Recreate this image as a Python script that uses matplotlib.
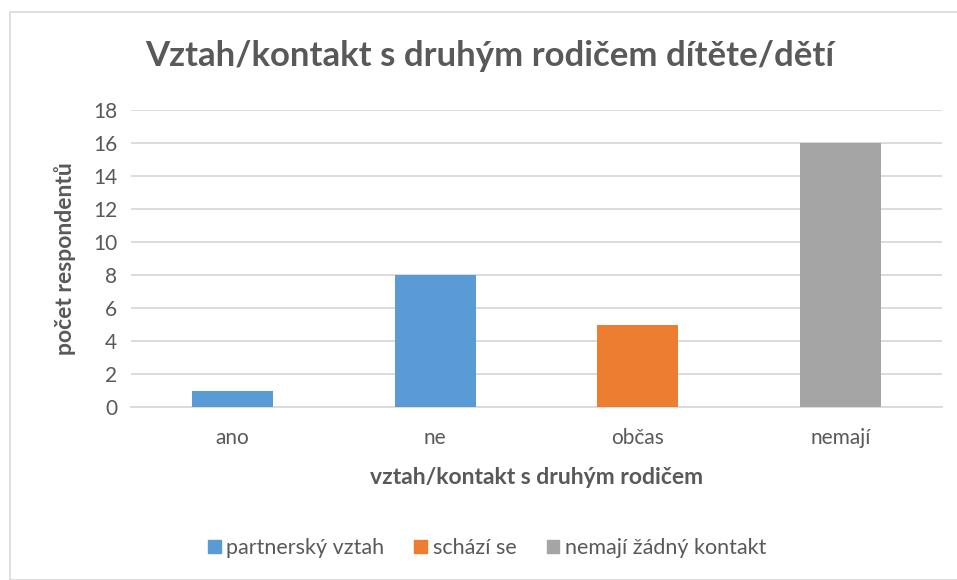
import matplotlib.pyplot as plt
from matplotlib.patches import Rectangle

# data
categories = ['ano', 'ne', 'občas', 'nemají']
values = [1, 8, 5, 16]
groups = ['partnerský vztah', 'partnerský vztah', 'schází se', 'nemají žádný kontakt']
legend_order = ['partnerský vztah', 'schází se', 'nemají žádný kontakt']
group_colors = {'partnerský vztah': '#5B9BD5',
                'schází se': '#ED7D31',
                'nemají žádný kontakt': '#A5A5A5'}
yticks = [0, 2, 4, 6, 8, 10, 12, 14, 16, 18]

text_color = '#595959'
grid_color = '#D9D9D9'
plt.rcParams['font.family'] = ['Lato', 'DejaVu Sans']

W, H = 957, 580
fig = plt.figure(figsize=(W / 100, H / 100), dpi=100)

# light frame around the chart area (right/bottom run off the image)
fig.patches.append(Rectangle((10 / W, 0), 1.0, 1 - 12 / H, transform=fig.transFigure,
                             fill=False, edgecolor='#D9D9D9', linewidth=1.2))

ax = fig.add_axes([131 / W, 1 - 407 / H, (942 - 131) / W, (407 - 110) / H])

x = list(range(len(categories)))
bars = ax.bar(x, values, width=0.4, color=[group_colors[g] for g in groups], zorder=3)

ax.set_xlim(-0.5, len(categories) - 0.5)
ax.set_ylim(0, 18)
ax.set_yticks(yticks)
ax.set_xticks(x)
ax.set_xticklabels(categories)
ax.tick_params(axis='both', length=0, labelsize=15, colors=text_color)
ax.tick_params(axis='x', pad=15)
ax.tick_params(axis='y', pad=10)
ax.yaxis.grid(True, color=grid_color, linewidth=1.3, zorder=0)
for side in ['top', 'right', 'left']:
    ax.spines[side].set_visible(False)
ax.spines['bottom'].set_color(grid_color)
ax.spines['bottom'].set_linewidth(1.3)

ax.set_xlabel('vztah/kontakt s druhým rodičem', fontsize=16.5, fontweight='bold',
              color=text_color, labelpad=14)
ax.set_ylabel('počet respondentů', fontsize=16.5, fontweight='bold',
              color=text_color, labelpad=12)

fig.text(490 / W, 1 - 56 / H, 'Vztah/kontakt s druhým rodičem dítěte/dětí',
         ha='center', va='center', fontsize=25, fontweight='bold', color=text_color)

# one legend entry per colour group
handles = [Rectangle((0, 0), 1, 1, color=group_colors[g]) for g in legend_order]
fig.legend(handles, legend_order, loc='center', bbox_to_anchor=(487 / W, 1 - 548 / H),
           ncol=3, frameon=False, fontsize=15.5, labelcolor=text_color,
           handlelength=0.6, handleheight=0.6, handletextpad=0.25, columnspacing=1.4)

fig.savefig('out.png', dpi=100, facecolor='white')
